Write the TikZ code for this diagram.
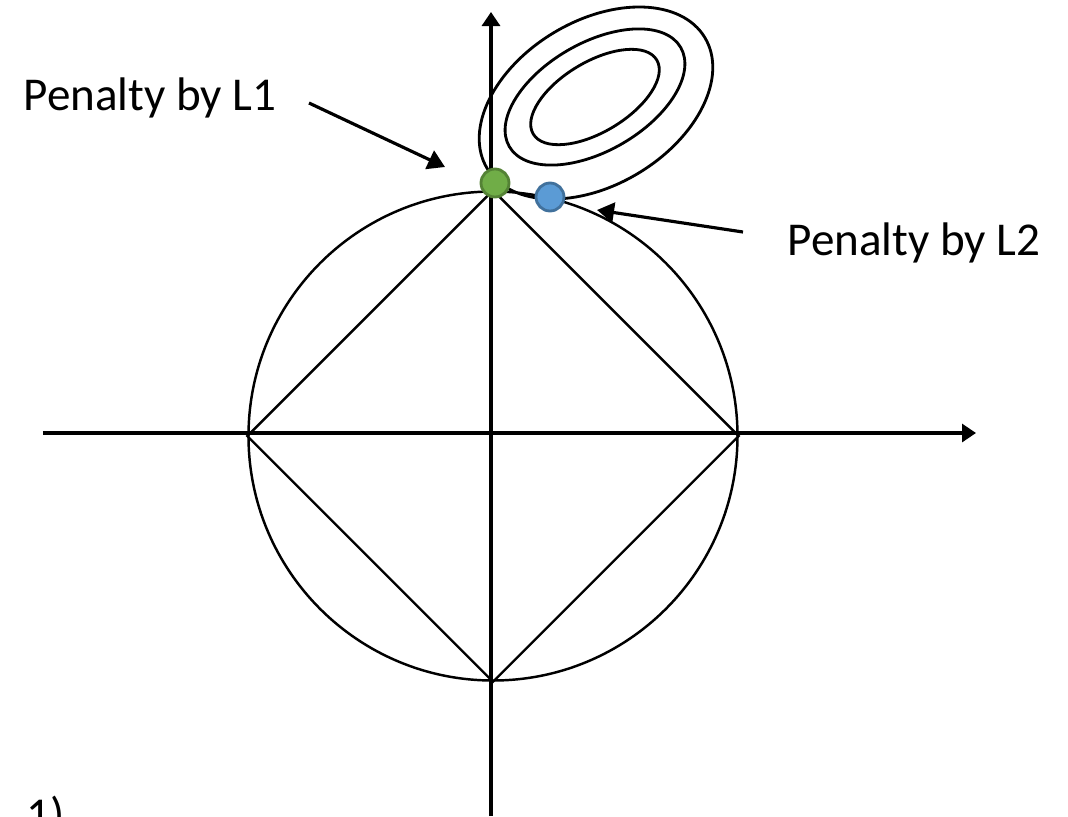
\documentclass[tikz,border=0pt]{standalone}
\usepackage{fontspec}
\setmainfont{Carlito}
\usetikzlibrary{arrows.meta}
\definecolor{dotgreen}{HTML}{70AD47}
\definecolor{dotgreenline}{HTML}{548235}
\definecolor{dotblue}{HTML}{5B9BD5}
\definecolor{dotblueline}{HTML}{41719C}
\tikzset{
  axis/.style={line width=0.9pt, -{Triangle[length=0.14cm, width=0.18cm]}},
  pointer/.style={line width=0.9pt, -{Triangle[length=0.17cm, width=0.2cm]}},
  outline/.style={line width=0.7pt},
  contour/.style={line width=0.8pt},
  marker/.style={circle, minimum size=0.28cm, inner sep=0pt, line width=0.8pt},
  caption/.style={font=\fontsize{13.4}{16}\selectfont, inner sep=0pt}
}

\begin{document}
\begin{tikzpicture}
            \useasboundingbox (-4.91,-3.83) rectangle (5.77,4.33);
            \clip (-4.91,-3.83) rectangle (5.77,4.33);

            % axes
            \coordinate (xmin) at (-4.48,0);
            \coordinate (xmax) at (4.85,0);
            \coordinate (ymin) at (0,-3.83);
            \coordinate (ymax) at (0,4.21);
            \draw [axis] (xmin) -- (xmax);
            \draw [axis] (ymin) -- (ymax);

            % L2 ball and L1 diamond
            \node (ball) [circle, draw, outline, minimum size=4.89cm, inner sep=0pt] at (0.02,-0.03) {};
            \draw [outline] (ball.west) -- (ball.north) -- (ball.east) -- (ball.south) -- cycle;

            % contours of the loss
            \draw [contour, rotate around={31:(1.05,3.30)}] (1.05,3.30) ellipse (1.27cm and 0.82cm);
            \draw [contour, rotate around={30:(1.04,3.36)}] (1.04,3.36) ellipse (0.99cm and 0.54cm);
            \draw [contour, rotate around={31:(1.04,3.36)}] (1.04,3.36) ellipse (0.72cm and 0.35cm);

            % solutions
            \node (solone) [marker, fill=dotgreen, draw=dotgreenline] at (0.04,2.50) {};
            \node (soltwo) [marker, fill=dotblue, draw=dotblueline] at (0.59,2.36) {};

            % labels
            \node (lblone) [caption, anchor=base west] at (-4.68,3.23) {Penalty by L1};
            \node (lbltwo) [caption, anchor=base west] at (2.96,1.78) {Penalty by L2};
            \node (fignum) [caption, anchor=base west] at (-4.65,-3.97) {1)};

            \coordinate (onetail) at (-1.82,3.30);
            \coordinate (onehead) at (-0.46,2.66);
            \coordinate (twotail) at (2.52,2.01);
            \coordinate (twohead) at (1.06,2.23);
            \draw [pointer] (onetail) -- (onehead);
            \draw [pointer] (twotail) -- (twohead);
        \end{tikzpicture}
\end{document}
